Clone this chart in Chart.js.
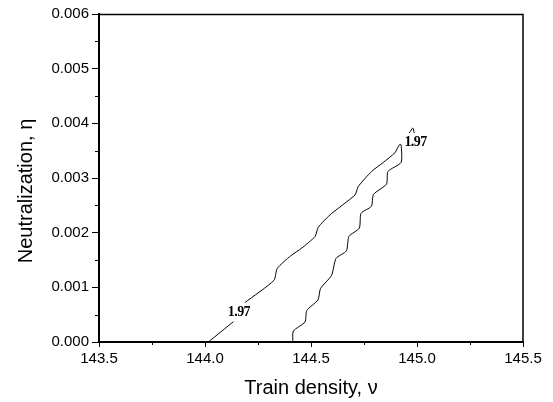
<!DOCTYPE html>
<html>
<head>
<meta charset="utf-8">
<script src="https://cdn.jsdelivr.net/npm/chart.js@4.4.1/dist/chart.umd.min.js"></script>
<style>
  html, body { margin: 0; padding: 0; background: #fff; }
  #wrap { width: 553px; height: 402px; }
</style>
</head>
<body>
<div id="wrap"><canvas id="c" width="553" height="402"></canvas></div>
<script>
// Contour level 1.97 — lower-left piece (below the label)
const lowX = [144.016, 144.134];
const lowY = [0.0, 0.000372];
// Main contour: from above the left label up to the peak, then down the right branch
const mainX = [144.189, 144.325, 144.341, 144.404, 144.456, 144.519, 144.534, 144.590, 144.656, 144.708, 144.723, 144.786, 144.841, 144.896, 144.917,
               144.925, 144.925, 144.863, 144.856, 144.795, 144.785, 144.736, 144.728, 144.679, 144.667, 144.618, 144.597, 144.545, 144.533, 144.480, 144.472, 144.417, 144.414];
const mainY = [0.000724, 0.001127, 0.001347, 0.001576, 0.001717, 0.001929, 0.002098, 0.002327, 0.002528, 0.002693, 0.002845, 0.003120, 0.003285, 0.003463, 0.003609,
               0.003609, 0.003285, 0.003120, 0.002886, 0.002702, 0.002483, 0.002354, 0.002083, 0.001933, 0.001667, 0.001530, 0.001218, 0.000980, 0.000770, 0.000577, 0.000366, 0.000202, 0.0];
// Small fragment near the top
const fragX = [144.964, 144.980, 144.987];
const fragY = [0.003824, 0.003915, 0.003824];
// Contour labels
const labelText = ["1.97", "1.97"];
const labelX = [144.160, 144.993];
const labelY = [0.00055, 0.003646];
// Axes
const xMin = 143.5, xMax = 145.5, xStep = 0.5;
const yMin = 0, yMax = 0.006, yStep = 0.001;
const xTitle = "Train density, \u03BD";
const yTitle = "Neutralization, \u03B7";

function pts(xs, ys) { return xs.map((x, i) => ({ x: x, y: ys[i] })); }

const lineStyle = { borderColor: '#000', borderWidth: 1, pointRadius: 0, tension: 0.2, fill: false };

const extras = {
  id: 'extras',
  beforeDatasetsDraw(chart) {
    const ctx = chart.ctx, a = chart.chartArea;
    ctx.save();
    ctx.strokeStyle = '#000';
    ctx.lineWidth = 1.5;
    ctx.beginPath();
    ctx.moveTo(a.left, a.top + 0.5);
    ctx.lineTo(a.right, a.top + 0.5);
    ctx.lineTo(a.right, a.bottom);
    ctx.stroke();
    // minor ticks
    ctx.lineWidth = 1;
    const xs = chart.scales.x, ys = chart.scales.y;
    for (let v = xMin + xStep / 2; v < xMax; v += xStep) {
      const px = Math.round(xs.getPixelForValue(v)) + 0.5;
      ctx.beginPath(); ctx.moveTo(px, a.bottom); ctx.lineTo(px, a.bottom + 3); ctx.stroke();
    }
    for (let v = yMin + yStep / 2; v < yMax; v += yStep) {
      const py = Math.round(ys.getPixelForValue(v)) + 0.5;
      ctx.beginPath(); ctx.moveTo(a.left - 4, py); ctx.lineTo(a.left, py); ctx.stroke();
    }
    ctx.restore();
  },
  afterDraw(chart) {
    const ctx = chart.ctx, a = chart.chartArea;
    const xs = chart.scales.x, ys = chart.scales.y;
    ctx.save();
    ctx.fillStyle = '#000';
    ctx.textAlign = 'center';
    ctx.textBaseline = 'middle';
    ctx.font = 'bold 14px "Liberation Serif"';
    if ('letterSpacing' in ctx) ctx.letterSpacing = '-0.6px';
    for (let i = 0; i < labelText.length; i++) {
      ctx.fillText(labelText[i], xs.getPixelForValue(labelX[i]), ys.getPixelForValue(labelY[i]));
    }
    if ('letterSpacing' in ctx) ctx.letterSpacing = '0px';
    ctx.font = '20px "Liberation Sans"';
    ctx.fillText(xTitle, (a.left + a.right) / 2, 388);
    ctx.translate(26, 191);
    ctx.rotate(-Math.PI / 2);
    ctx.fillText(yTitle, 0, 0);
    ctx.restore();
  }
};

new Chart(document.getElementById('c'), {
  type: 'line',
  data: {
    datasets: [
      Object.assign({ data: pts(lowX, lowY) }, lineStyle),
      Object.assign({ data: pts(mainX, mainY) }, lineStyle),
      Object.assign({ data: pts(fragX, fragY) }, lineStyle)
    ]
  },
  options: {
    responsive: false,
    animation: false,
    parsing: true,
    layout: { padding: { left: 0, top: 14, right: 30, bottom: 0 } },
    plugins: { legend: { display: false }, tooltip: { enabled: false } },
    scales: {
      x: {
        type: 'linear', min: xMin, max: xMax,
        afterFit(s) { s.height = 60; },
        border: { display: true, color: '#000', width: 2 },
        grid: { drawOnChartArea: false, drawTicks: true, tickLength: 5, tickColor: '#000', tickWidth: 1 },
        ticks: { stepSize: xStep, color: '#000', padding: 3, maxRotation: 0,
                 font: { family: 'Liberation Sans', size: 15 },
                 callback: v => Number(v).toFixed(1) }
      },
      y: {
        type: 'linear', min: yMin, max: yMax,
        afterFit(s) { s.width = 99; },
        border: { display: true, color: '#000', width: 2 },
        grid: { drawOnChartArea: false, drawTicks: true, tickLength: 7, tickColor: '#000', tickWidth: 1 },
        ticks: { stepSize: yStep, color: '#000', padding: 3,
                 font: { family: 'Liberation Sans', size: 15 },
                 callback: v => Number(v).toFixed(3) }
      }
    }
  },
  plugins: [extras]
});
</script>
</body>
</html>
